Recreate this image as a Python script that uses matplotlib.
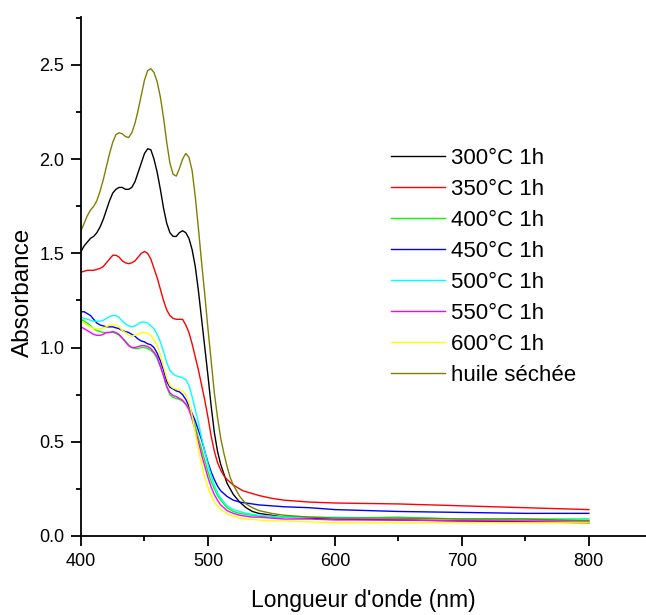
import matplotlib
matplotlib.use("Agg")
import matplotlib.pyplot as plt
from matplotlib.ticker import MultipleLocator, FormatStrFormatter

# wavelength grid (nm)
wavelength = [400, 402.5, 405, 407.5, 410, 412.5, 415, 417.5, 420, 422.5, 425, 427.5,
              430, 432.5, 435, 437.5, 440, 442.5, 445, 447.5, 450, 452.5, 455, 457.5,
              460, 462.5, 465, 467.5, 470, 472.5, 475, 477.5, 480, 482.5, 485, 487.5,
              490, 492.5, 495, 497.5, 500, 502.5, 505, 507.5, 510, 512.5, 515, 517.5,
              520, 522.5, 525, 527.5, 530,
              535, 540, 550, 560, 580, 600, 650, 700, 750, 800]

a_300 = [1.51, 1.54, 1.56, 1.58, 1.59, 1.61, 1.64, 1.68, 1.73, 1.78, 1.82, 1.84,
         1.85, 1.85, 1.84, 1.84, 1.85, 1.88, 1.93, 1.98, 2.03, 2.055, 2.05, 2.00,
         1.93, 1.84, 1.74, 1.66, 1.61, 1.59, 1.59, 1.61, 1.62, 1.61, 1.58, 1.52,
         1.43, 1.30, 1.15, 1.00, 0.85, 0.69, 0.55, 0.45, 0.38, 0.33, 0.28, 0.25,
         0.22, 0.20, 0.18, 0.165, 0.15,
         0.13, 0.12, 0.11, 0.10, 0.095, 0.09, 0.085, 0.08, 0.075, 0.07]
a_350 = [1.40, 1.405, 1.41, 1.41, 1.41, 1.415, 1.42, 1.43, 1.45, 1.47, 1.49, 1.49,
         1.48, 1.46, 1.45, 1.445, 1.45, 1.46, 1.48, 1.50, 1.51, 1.50, 1.47, 1.42,
         1.37, 1.31, 1.25, 1.20, 1.17, 1.155, 1.15, 1.15, 1.15, 1.12, 1.08, 1.02,
         0.95, 0.88, 0.80, 0.72, 0.63, 0.53, 0.45, 0.39, 0.35, 0.32, 0.30, 0.285,
         0.27, 0.26, 0.25, 0.24, 0.235,
         0.225, 0.215, 0.20, 0.19, 0.18, 0.175, 0.17, 0.16, 0.15, 0.14]
a_400 = [1.15, 1.14, 1.13, 1.115, 1.10, 1.09, 1.085, 1.08, 1.08, 1.08, 1.08, 1.075,
         1.065, 1.05, 1.035, 1.015, 1.00, 0.995, 0.995, 1.00, 1.00, 0.995, 0.985, 0.97,
         0.94, 0.90, 0.85, 0.79, 0.75, 0.735, 0.73, 0.725, 0.715, 0.70, 0.68, 0.635,
         0.58, 0.52, 0.46, 0.40, 0.34, 0.29, 0.25, 0.215, 0.19, 0.17, 0.15, 0.14,
         0.13, 0.125, 0.12, 0.117, 0.115,
         0.11, 0.105, 0.10, 0.10, 0.10, 0.095, 0.10, 0.09, 0.09, 0.09]
a_450 = [1.19, 1.19, 1.18, 1.17, 1.15, 1.13, 1.12, 1.115, 1.11, 1.11, 1.11, 1.105,
         1.10, 1.09, 1.085, 1.08, 1.07, 1.06, 1.045, 1.035, 1.03, 1.02, 1.015, 1.00,
         0.97, 0.93, 0.88, 0.82, 0.79, 0.78, 0.77, 0.765, 0.75, 0.725, 0.69, 0.65,
         0.61, 0.56, 0.51, 0.45, 0.39, 0.34, 0.30, 0.265, 0.24, 0.225, 0.21, 0.20,
         0.19, 0.185, 0.18, 0.177, 0.175,
         0.17, 0.165, 0.16, 0.155, 0.15, 0.14, 0.13, 0.125, 0.12, 0.12]
a_500 = [1.16, 1.155, 1.15, 1.145, 1.14, 1.14, 1.14, 1.145, 1.155, 1.165, 1.17, 1.17,
         1.16, 1.14, 1.125, 1.115, 1.11, 1.115, 1.125, 1.135, 1.135, 1.13, 1.115, 1.10,
         1.07, 1.03, 0.98, 0.92, 0.88, 0.86, 0.85, 0.845, 0.84, 0.83, 0.80, 0.74,
         0.67, 0.60, 0.52, 0.45, 0.38, 0.32, 0.27, 0.23, 0.20, 0.18, 0.16, 0.15,
         0.14, 0.135, 0.13, 0.125, 0.12,
         0.115, 0.11, 0.105, 0.10, 0.10, 0.10, 0.095, 0.09, 0.09, 0.085]
a_550 = [1.11, 1.10, 1.09, 1.08, 1.07, 1.065, 1.065, 1.07, 1.08, 1.08, 1.085, 1.08,
         1.07, 1.05, 1.03, 1.01, 1.00, 1.00, 1.005, 1.01, 1.01, 1.005, 0.995, 0.975,
         0.95, 0.90, 0.85, 0.795, 0.76, 0.745, 0.74, 0.73, 0.72, 0.70, 0.67, 0.62,
         0.56, 0.50, 0.43, 0.37, 0.31, 0.26, 0.22, 0.19, 0.165, 0.15, 0.135, 0.127,
         0.12, 0.115, 0.11, 0.107, 0.105,
         0.10, 0.10, 0.095, 0.09, 0.09, 0.085, 0.085, 0.08, 0.08, 0.08]
a_600 = [1.14, 1.13, 1.12, 1.11, 1.10, 1.10, 1.10, 1.105, 1.11, 1.12, 1.12, 1.12,
         1.11, 1.09, 1.08, 1.065, 1.06, 1.065, 1.07, 1.08, 1.08, 1.075, 1.065, 1.04,
         1.01, 0.96, 0.90, 0.84, 0.80, 0.785, 0.78, 0.775, 0.77, 0.75, 0.71, 0.64,
         0.55, 0.46, 0.38, 0.31, 0.26, 0.215, 0.18, 0.16, 0.14, 0.13, 0.12, 0.11,
         0.105, 0.10, 0.095, 0.092, 0.09,
         0.087, 0.085, 0.08, 0.08, 0.075, 0.07, 0.07, 0.07, 0.07, 0.07]
a_huile = [1.62, 1.66, 1.70, 1.73, 1.75, 1.78, 1.83, 1.89, 1.96, 2.03, 2.09, 2.13,
           2.14, 2.135, 2.12, 2.115, 2.14, 2.19, 2.26, 2.34, 2.42, 2.47, 2.48, 2.46,
           2.41, 2.33, 2.22, 2.09, 1.98, 1.92, 1.91, 1.95, 2.00, 2.03, 2.01, 1.94,
           1.80, 1.63, 1.45, 1.28, 1.10, 0.93, 0.76, 0.63, 0.52, 0.44, 0.37, 0.31,
           0.27, 0.24, 0.21, 0.19, 0.17,
           0.15, 0.135, 0.12, 0.11, 0.10, 0.095, 0.095, 0.09, 0.09, 0.08]

labels = ["300°C 1h", "350°C 1h", "400°C 1h", "450°C 1h",
          "500°C 1h", "550°C 1h", "600°C 1h", "huile séchée"]
series = [a_300, a_350, a_400, a_450, a_500, a_550, a_600, a_huile]
colors = ["#000000", "#ff0000", "#00ff00", "#0000ff",
          "#00ffff", "#ff00ff", "#ffff00", "#808000"]

plt.rcParams["font.family"] = ["Liberation Sans", "DejaVu Sans"]

fig = plt.figure(figsize=(6.46, 6.15), dpi=100)
ax = fig.add_axes([0.1254, 0.1285, 0.8746, 0.8440])

for y, lab, c in zip(series, labels, colors):
    ax.plot(wavelength, y, color=c, linewidth=1.0, label=lab)

ax.set_xlim(400, 845)
ax.set_ylim(0, 2.755)
ax.xaxis.set_major_locator(MultipleLocator(100))
ax.xaxis.set_minor_locator(MultipleLocator(50))
ax.yaxis.set_major_locator(MultipleLocator(0.5))
ax.yaxis.set_minor_locator(MultipleLocator(0.25))
ax.yaxis.set_major_formatter(FormatStrFormatter("%.1f"))

for side in ["top", "right"]:
    ax.spines[side].set_visible(False)
for side in ["left", "bottom"]:
    ax.spines[side].set_linewidth(1.3)

ax.tick_params(which="major", direction="out", length=7, width=1.3, labelsize=13, pad=5)
ax.tick_params(which="minor", direction="out", length=3.3, width=1.3)

ax.set_xlabel("Longueur d'onde (nm)", fontsize=16.5, labelpad=14)
ax.set_ylabel("Absorbance", fontsize=17.5)
ax.yaxis.set_label_coords(-0.083, 0.469)

ax.legend(loc="upper left", bbox_to_anchor=(0.549, 0.747), frameon=False,
          fontsize=16, handlelength=2.4, handletextpad=0.3, labelspacing=0.45,
          borderpad=0, borderaxespad=0)

fig.savefig("out.png", dpi=100)
